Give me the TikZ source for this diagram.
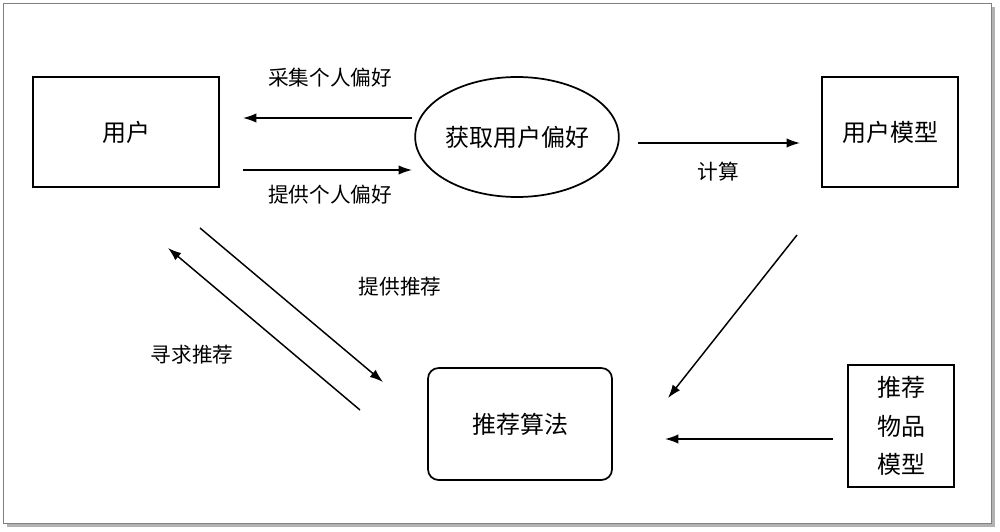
\documentclass[tikz,border=0pt]{standalone}
\usepackage{fontspec}
\setmainfont{Noto Sans CJK SC}
\usetikzlibrary{shapes.geometric,arrows.meta}
\begin{document}
\begin{tikzpicture}[x=0.75pt,y=-0.75pt,
  box/.style={draw,line width=1.3pt,inner sep=0pt,font=\fontsize{18}{22}\selectfont},
  lbl/.style={font=\fontsize{15.5}{18}\selectfont},
  arr/.style={line width=1.1pt,-{Latex[length=10pt,width=7pt]}}]
  \useasboundingbox (0,0) rectangle (1000,532);
  \fill[gray!60] (7,7) rectangle (995,527);
  \draw[draw=gray,fill=white] (3,3) rectangle (991,523);

  \node[box,minimum width=140pt,minimum height=83pt] (user) at (126,132) {用户};
  \node[box,ellipse,minimum width=145pt,minimum height=90pt] (pref) at (517,137) {获取用户偏好};
  \node[box,minimum width=102pt,minimum height=83pt] (umodel) at (890,132) {用户模型};
  \node[box,rounded corners=8pt,minimum width=138pt,minimum height=84pt] (algo) at (520,424) {推荐算法};
  \node[box,minimum width=80pt,minimum height=92pt,align=center,font=\fontsize{18}{29}\selectfont] (imodel) at (901,426) {推荐\\物品\\模型};

  \coordinate (a1) at (412,118); \coordinate (b1) at (243,118);
  \coordinate (a2) at (243,170); \coordinate (b2) at (412,170);
  \coordinate (a3) at (638,143); \coordinate (b3) at (800,143);
  \coordinate (a4) at (797,235); \coordinate (b4) at (668,398);
  \coordinate (a5) at (833,439); \coordinate (b5) at (665,439);
  \coordinate (a6) at (200,228); \coordinate (b6) at (383,382);
  \coordinate (a7) at (360,410); \coordinate (b7) at (168,248);

  \draw[arr] (a1) -- (b1);
  \draw[arr] (a2) -- (b2);
  \draw[arr] (a3) -- (b3);
  \draw[arr] (a4) -- (b4);
  \draw[arr] (a5) -- (b5);
  \draw[arr] (a6) -- (b6);
  \draw[arr] (a7) -- (b7);

  \node[lbl] (l1) at (330,78) {采集个人偏好};
  \node[lbl] (l2) at (330,195) {提供个人偏好};
  \node[lbl] (l3) at (718,172) {计算};
  \node[lbl] (l4) at (400,287) {提供推荐};
  \node[lbl] (l5) at (192,355) {寻求推荐};
\end{tikzpicture}
\end{document}
